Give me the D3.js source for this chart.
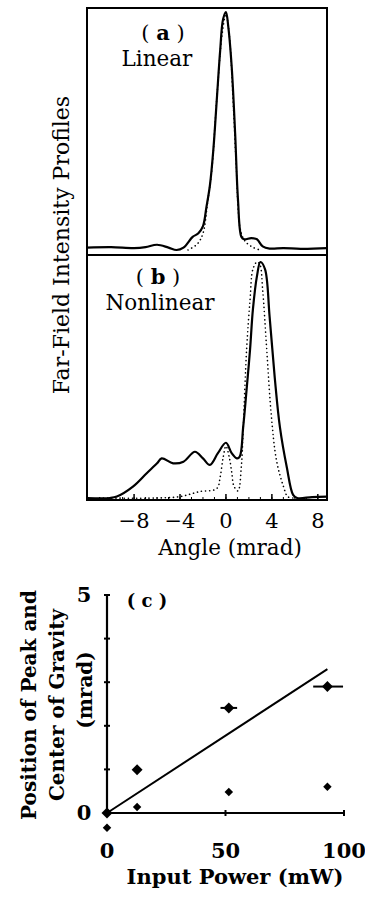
<!DOCTYPE html>
<html>
<head>
<meta charset="utf-8">
<script src="https://cdn.jsdelivr.net/npm/d3@7"></script>
<style>
  body { margin: 0; background: #fff; }
  text { font-family: "DejaVu Serif", "Liberation Serif", serif; fill: #000; }
</style>
</head>
<body>
<div id="chart"></div>
<script>
// panel (a) linear profiles, [angle mrad, relative intensity]
var linearSolid = [[-12.1,0.01],[-10,0.012],[-8,0.008],[-7,0.012],[-6,0.022],[-5,0.01],[-4.3,0.0],[-3.7,0.01],
  [-2.9,0.055],[-2.4,0.07],[-2.0,0.1],[-1.7,0.18],[-1.4,0.27],[-1.1,0.42],[-0.8,0.63],[-0.5,0.84],[-0.25,0.97],
  [0,1.0],[0.2,0.94],[0.5,0.77],[0.8,0.49],[1.05,0.21],[1.35,0.055],[1.6,0.045],[2.2,0.05],[2.7,0.045],
  [3.2,0.015],[3.8,0.006],[5,0.008],[6.5,0.005],[8.8,0.008]];
var linearDotted = [[-3.3,0.0],[-2.5,0.025],[-2.0,0.07],[-1.6,0.2],[-1.2,0.35],[-0.95,0.53],[-0.7,0.7],
  [-0.35,0.9],[0,0.99],[0.3,0.9],[0.6,0.65],[0.9,0.35],[1.2,0.1],[1.5,0.05],[1.8,0.03],[2.4,0.01],[3,0.0]];

// panel (b) nonlinear profiles
var nonlinSolid = [[-12.1,0.0],[-10.1,0.0],[-9.5,0.006],[-8.1,0.048],[-6.9,0.105],[-6.0,0.147],[-5.6,0.168],
  [-4.6,0.147],[-3.7,0.154],[-2.7,0.196],[-2.0,0.168],[-1.4,0.14],[-0.7,0.19],[0,0.234],[0.5,0.19],
  [0.95,0.168],[1.2,0.175],[1.5,0.30],[1.8,0.46],[2.1,0.63],[2.35,0.80],[2.7,0.94],[3.0,1.0],[3.4,0.97],
  [3.8,0.77],[4.25,0.51],[4.7,0.30],[5.3,0.13],[5.85,0.013],[6.2,0.0],[7.5,0.004],[8.8,0.006]];
var nonlinDotted = [[-11,0.0],[-6,0.0],[-4.0,0.006],[-2.3,0.027],[-0.8,0.04],[-0.5,0.09],[-0.25,0.17],[0,0.22],
  [0.3,0.17],[0.5,0.11],[0.7,0.05],[1.05,0.03],[1.35,0.14],[1.5,0.29],[1.8,0.63],[2.1,0.84],[2.35,0.97],
  [2.7,1.0],[2.95,0.99],[3.2,0.88],[3.55,0.63],[3.95,0.35],[4.4,0.16],[5.0,0.05],[5.4,0.005],[6,0.0]];

var angleTicks = [-8, -4, 0, 4, 8];
var angleTickLabels = ["\u22128", "\u22124", "0", "4", "8"];

// panel (c): input power (mW) vs position (mrad)
var powerPeak = [0, 12.7, 51.4, 93];
var peakPos = [0, 0.99, 2.41, 2.9];
var powerCog = [0, 12.7, 51.4, 93];
var cogPos = [-0.34, 0.14, 0.48, 0.6];
var errLo = [0, 0, 3.5, 6];
var errHi = [0, 0, 3.5, 6.6];
var fitPower = [0, 93];
var fitPos = [0, 3.3];
var powerTicks = [0, 50, 100];
var posTicks = [0, 1, 2, 3, 4, 5];

var width = 365, height = 897;
var svg = d3.select('#chart').append('svg')
  .attr('width', width)
  .attr('height', height);

var x = d3.scaleLinear().domain([-12.1, 8.8]).range([87, 327]);
var ya = d3.scaleLinear().domain([0, 1]).range([250, 12]);
var yb = d3.scaleLinear().domain([0, 1]).range([498, 262]);

function profile(ys) {
  return d3.line()
    .x(function(d) { return x(d[0]); })
    .y(function(d) { return ys(d[1]); })
    .curve(d3.curveCatmullRom.alpha(0.5));
}

// frame for (a) and (b)
svg.append('rect')
  .attr('x', 87).attr('y', 8).attr('width', 240).attr('height', 492)
  .attr('fill', 'none').attr('stroke', '#000').attr('stroke-width', 2);
svg.append('line')
  .attr('x1', 87).attr('x2', 327).attr('y1', 255).attr('y2', 255)
  .attr('stroke', '#000').attr('stroke-width', 2);

// bottom ticks
var minor = d3.range(-12, 9, 1);
svg.selectAll('.minor').data(minor).enter().append('line')
  .attr('x1', function(d) { return x(d); }).attr('x2', function(d) { return x(d); })
  .attr('y1', 500).attr('y2', 497)
  .attr('stroke', '#000').attr('stroke-width', 1);
svg.selectAll('.major').data(angleTicks).enter().append('line')
  .attr('x1', function(d) { return x(d); }).attr('x2', function(d) { return x(d); })
  .attr('y1', 500).attr('y2', 494)
  .attr('stroke', '#000').attr('stroke-width', 1.5);
svg.selectAll('.albl').data(angleTicks).enter().append('text')
  .attr('x', function(d) { return x(d); }).attr('y', 528)
  .attr('text-anchor', 'middle').attr('font-size', 21)
  .text(function(d, i) { return angleTickLabels[i]; });

svg.append('text').attr('x', 230).attr('y', 555)
  .attr('text-anchor', 'middle').attr('font-size', 21.5).text('Angle (mrad)');

svg.append('text')
  .attr('transform', 'translate(69,245) rotate(-90)')
  .attr('text-anchor', 'middle').attr('font-size', 22)
  .text('Far-Field Intensity Profiles');

// curves
svg.append('path').attr('d', profile(ya)(linearDotted))
  .attr('fill', 'none').attr('stroke', '#000').attr('stroke-width', 1.6)
  .attr('stroke-dasharray', '0.1 4').attr('stroke-linecap', 'round');
svg.append('path').attr('d', profile(ya)(linearSolid))
  .attr('fill', 'none').attr('stroke', '#000').attr('stroke-width', 2.2);
svg.append('path').attr('d', profile(yb)(nonlinDotted))
  .attr('fill', 'none').attr('stroke', '#000').attr('stroke-width', 1.6)
  .attr('stroke-dasharray', '0.1 4').attr('stroke-linecap', 'round');
svg.append('path').attr('d', profile(yb)(nonlinSolid))
  .attr('fill', 'none').attr('stroke', '#000').attr('stroke-width', 2.2);

// panel labels
var la = svg.append('text').attr('x', 163).attr('y', 40).attr('text-anchor', 'middle').attr('font-size', 21);
la.append('tspan').text('( ');
la.append('tspan').attr('font-weight', 'bold').text('a');
la.append('tspan').text(' )');
svg.append('text').attr('x', 157).attr('y', 66).attr('text-anchor', 'middle').attr('font-size', 21.5).text('Linear');
var lb = svg.append('text').attr('x', 158).attr('y', 284).attr('text-anchor', 'middle').attr('font-size', 21);
lb.append('tspan').text('( ');
lb.append('tspan').attr('font-weight', 'bold').text('b');
lb.append('tspan').text(' )');
svg.append('text').attr('x', 160).attr('y', 310).attr('text-anchor', 'middle').attr('font-size', 21.5).text('Nonlinear');

// panel (c)
var xc = d3.scaleLinear().domain([0, 100]).range([107, 344]);
var yc = d3.scaleLinear().domain([0, 5]).range([813, 595]);

svg.append('line').attr('x1', xc(0)).attr('x2', xc(0)).attr('y1', yc(0)).attr('y2', yc(5))
  .attr('stroke', '#000').attr('stroke-width', 2.2);
svg.append('line').attr('x1', xc(0)).attr('x2', xc(100)).attr('y1', yc(0)).attr('y2', yc(0))
  .attr('stroke', '#000').attr('stroke-width', 2.2);
svg.selectAll('.yt').data(posTicks).enter().append('line')
  .attr('x1', xc(0) - 3).attr('x2', xc(0) + 3)
  .attr('y1', function(d) { return yc(d); }).attr('y2', function(d) { return yc(d); })
  .attr('stroke', '#000').attr('stroke-width', 2);
svg.selectAll('.xt').data(powerTicks).enter().append('line')
  .attr('x1', function(d) { return xc(d); }).attr('x2', function(d) { return xc(d); })
  .attr('y1', yc(0) - 3).attr('y2', yc(0) + 3)
  .attr('stroke', '#000').attr('stroke-width', 2);

svg.selectAll('.ylbl').data([0, 5]).enter().append('text')
  .attr('x', 84).attr('y', function(d) { return yc(d) + 7; })
  .attr('text-anchor', 'middle').attr('font-size', 21).attr('font-weight', 'bold')
  .text(function(d) { return d; });
svg.selectAll('.xlbl').data(powerTicks).enter().append('text')
  .attr('x', function(d) { return xc(d); }).attr('y', 858)
  .attr('text-anchor', 'middle').attr('font-size', 21).attr('font-weight', 'bold')
  .text(function(d) { return d; });

svg.append('text').attr('x', 235).attr('y', 884)
  .attr('text-anchor', 'middle').attr('font-size', 21).attr('font-weight', 'bold')
  .text('Input Power (mW)');

var yTitle = ['Position of Peak and', 'Center of Gravity', '(mrad)'];
svg.selectAll('.ytitle').data(yTitle).enter().append('text')
  .attr('transform', function(d, i) { return 'translate(' + (36 + i * 28) + ',' + (i == 2 ? 690 : 705) + ') rotate(-90)'; })
  .attr('text-anchor', 'middle').attr('font-size', 20).attr('font-weight', 'bold')
  .text(function(d) { return d; });

svg.append('text').attr('x', 147).attr('y', 607)
  .attr('text-anchor', 'middle').attr('font-size', 18).attr('font-weight', 'bold')
  .text('( c )');

// fit line
svg.append('line')
  .attr('x1', xc(fitPower[0])).attr('y1', yc(fitPos[0]))
  .attr('x2', xc(fitPower[1])).attr('y2', yc(fitPos[1]))
  .attr('stroke', '#000').attr('stroke-width', 2);

// horizontal error bars
svg.selectAll('.err').data(powerPeak).enter().append('line')
  .attr('x1', function(d, i) { return xc(d - errLo[i]); })
  .attr('x2', function(d, i) { return xc(d + errHi[i]); })
  .attr('y1', function(d, i) { return yc(peakPos[i]); })
  .attr('y2', function(d, i) { return yc(peakPos[i]); })
  .attr('stroke', '#000').attr('stroke-width', 2);

var diamond = d3.symbol().type(d3.symbolSquare);
svg.selectAll('.peak').data(powerPeak).enter().append('path')
  .attr('d', diamond.size(60)())
  .attr('transform', function(d, i) { return 'translate(' + xc(d) + ',' + yc(peakPos[i]) + ') rotate(45)'; })
  .attr('fill', '#000');
svg.selectAll('.cog').data(powerCog).enter().append('path')
  .attr('d', diamond.size(36)())
  .attr('transform', function(d, i) { return 'translate(' + xc(d) + ',' + yc(cogPos[i]) + ') rotate(45)'; })
  .attr('fill', '#000');
</script>
</body>
</html>
